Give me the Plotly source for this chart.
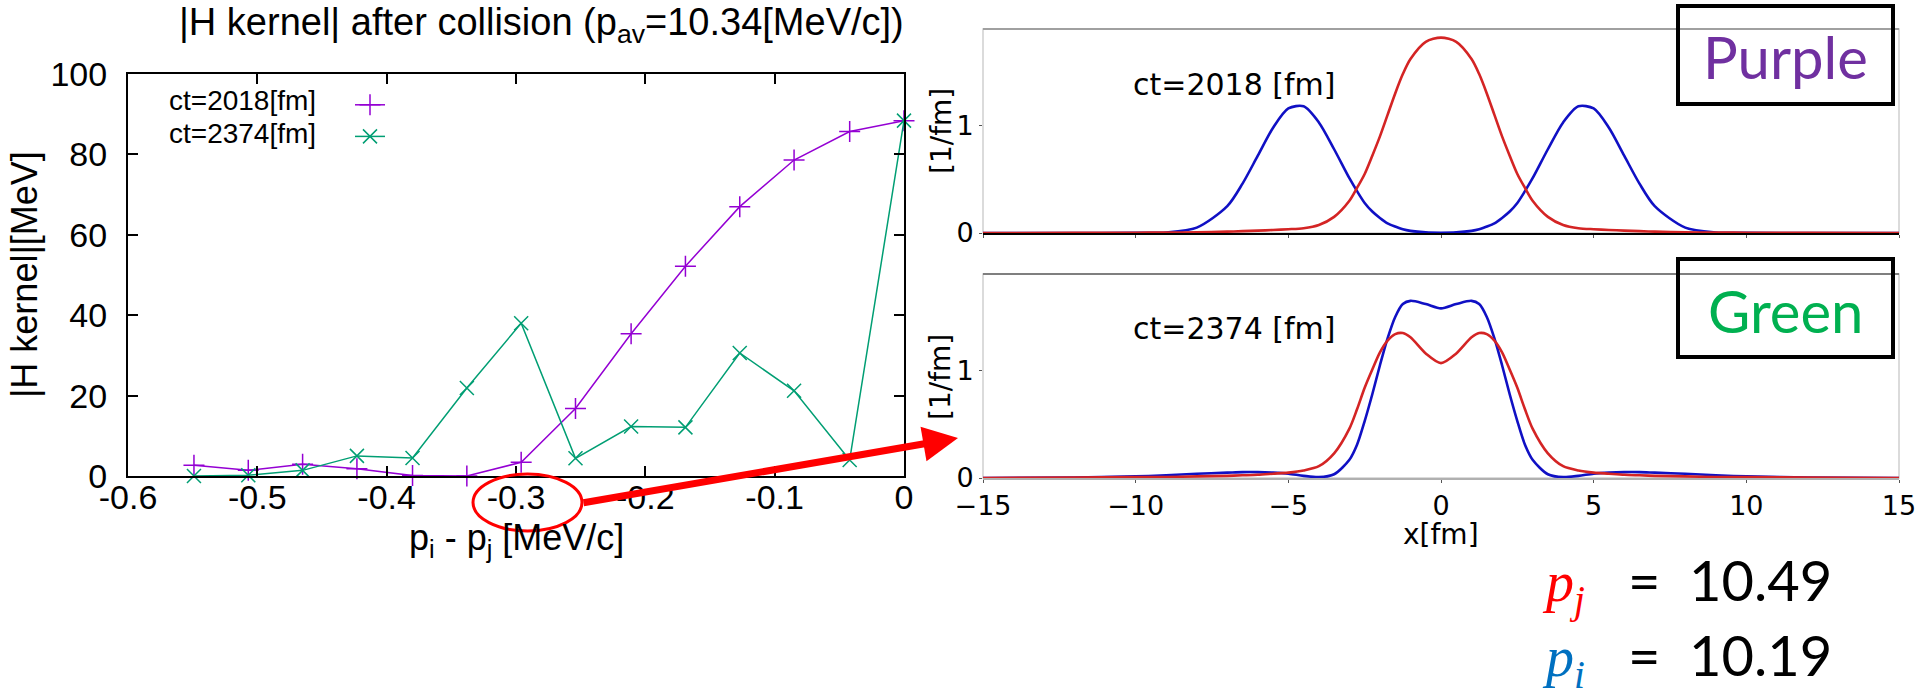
import plotly.graph_objects as go

W, H = 1917, 696

# ---------------- left chart data ----------------
dp_ij = [-0.549, -0.507, -0.465, -0.423, -0.380, -0.338, -0.296,
         -0.254, -0.211, -0.169, -0.127, -0.085, -0.042, 0.0]
h_kernel_2018 = [2.7, 1.4, 2.9, 1.8, 0.1, 0.0, 3.4, 16.8, 35.4, 52.2, 67.0, 78.6, 85.7, 88.4]
h_kernel_2374 = [0.0, 0.2, 1.4, 5.0, 4.5, 21.9, 38.0, 4.4, 12.3, 12.1, 30.6, 21.2, 4.0, 88.4]
left_xticks = [-0.6, -0.5, -0.4, -0.3, -0.2, -0.1, 0]
left_xticktext = ["-0.6", "-0.5", "-0.4", "-0.3", "-0.2", "-0.1", "0"]
left_yticks = [0, 20, 40, 60, 80, 100]
series_names = ["ct=2018[fm]", "ct=2374[fm]"]

# ---------------- right panels data ----------------
x_fm = [-15, -12, -10, -9, -8, -7, -6.5, -6, -5.5, -5, -4.5, -4, -3.5, -3, -2.75, -2.5,
        -2.25, -2, -1.75, -1.5, -1.25, -1, -0.5, 0, 0.5, 1, 1.25, 1.5, 1.75, 2, 2.25,
        2.5, 2.75, 3, 3.5, 4, 4.5, 5, 5.5, 6, 6.5, 7, 8, 9, 10, 12, 15]
rho_i_2018 = [0, 0, 0.001, 0.005, 0.05, 0.25, 0.46, 0.72, 0.98, 1.16, 1.18, 1.03, 0.78, 0.51,
              0.39, 0.28, 0.20, 0.14, 0.09, 0.06, 0.035, 0.02, 0.006, 0.003, 0.006, 0.02,
              0.035, 0.06, 0.09, 0.14, 0.20, 0.28, 0.39, 0.51, 0.78, 1.03, 1.18, 1.16, 0.98,
              0.72, 0.46, 0.25, 0.05, 0.005, 0.001, 0, 0]
rho_j_2018 = [0, 0.001, 0.003, 0.004, 0.007, 0.013, 0.017, 0.022, 0.028, 0.035, 0.045, 0.075,
              0.15, 0.30, 0.42, 0.55, 0.72, 0.90, 1.10, 1.30, 1.48, 1.62, 1.78, 1.82, 1.78,
              1.62, 1.48, 1.30, 1.10, 0.90, 0.72, 0.55, 0.42, 0.30, 0.15, 0.075, 0.045, 0.035,
              0.028, 0.022, 0.017, 0.013, 0.007, 0.004, 0.003, 0.001, 0]
rho_i_2374 = [0, 0.005, 0.015, 0.025, 0.04, 0.05, 0.055, 0.055, 0.05, 0.04, 0.02, 0.008, 0.035,
              0.17, 0.31, 0.53, 0.78, 1.05, 1.30, 1.50, 1.62, 1.65, 1.62, 1.58, 1.62, 1.65,
              1.62, 1.50, 1.30, 1.05, 0.78, 0.53, 0.31, 0.17, 0.035, 0.008, 0.02, 0.04, 0.05,
              0.055, 0.055, 0.05, 0.04, 0.025, 0.015, 0.005, 0]
rho_j_2374 = [0, 0.004, 0.008, 0.01, 0.015, 0.02, 0.025, 0.03, 0.04, 0.05, 0.07, 0.11, 0.23,
              0.46, 0.64, 0.84, 1.01, 1.17, 1.28, 1.34, 1.35, 1.31, 1.16, 1.07, 1.16, 1.31,
              1.35, 1.34, 1.28, 1.17, 1.01, 0.84, 0.64, 0.46, 0.23, 0.11, 0.07, 0.05, 0.04,
              0.03, 0.025, 0.02, 0.015, 0.01, 0.008, 0.004, 0]
right_xticks = [-15, -10, -5, 0, 5, 10, 15]
right_yticks = [0, 1]
p_j_value = "10.49"
p_i_value = "10.19"


def px(x):
    return x / W


def py(y):
    return 1 - y / H


PURPLE = "#9400d3"
GREEN = "#009e73"
BLUE = "#1010c4"
RED = "#d42424"
LFONT = "Liberation Sans"
RFONT = "DejaVu Sans"
NB = "\u00a0"

fig = go.Figure()

# left chart
fig.add_trace(go.Scatter(
    x=dp_ij, y=h_kernel_2018, mode="lines+markers", name=" ",
    line=dict(color=PURPLE, width=1.5),
    marker=dict(symbol="cross-thin-open", size=15, line=dict(color=PURPLE, width=1.5)),
    cliponaxis=False, xaxis="x", yaxis="y"))
fig.add_trace(go.Scatter(
    x=dp_ij, y=h_kernel_2374, mode="lines+markers", name="  ",
    line=dict(color=GREEN, width=1.5),
    marker=dict(symbol="x-thin-open", size=14, line=dict(color=GREEN, width=1.5)),
    cliponaxis=False, xaxis="x", yaxis="y"))

# right panels
for xs, ys, col, xa, ya in [
    (x_fm, rho_i_2018, BLUE, "x2", "y2"),
    (x_fm, rho_j_2018, RED, "x2", "y2"),
    (x_fm, rho_i_2374, BLUE, "x3", "y3"),
    (x_fm, rho_j_2374, RED, "x3", "y3"),
]:
    fig.add_trace(go.Scatter(
        x=xs, y=ys, mode="lines", showlegend=False,
        line=dict(color=col, width=2.6, shape="spline", smoothing=0.8),
        xaxis=xa, yaxis=ya))

left_axis_common = dict(
    showline=True, linecolor="black", linewidth=2, mirror="ticks",
    ticks="inside", ticklen=10, tickwidth=1.5, tickcolor="black",
    showgrid=False, zeroline=False, automargin=False,
    tickfont=dict(family=LFONT, size=34, color="black"))

right_axis_common = dict(
    showgrid=False, zeroline=False, ticks="outside", ticklen=3, tickwidth=1,
    automargin=False,
    tickcolor="#555555", tickfont=dict(family=RFONT, size=27, color="black"))

fig.update_layout(
    width=W, height=H,
    margin=dict(l=0, r=0, t=0, b=0, autoexpand=False),
    paper_bgcolor="white", plot_bgcolor="rgba(0,0,0,0)",
    xaxis=dict(domain=[px(128), px(904)], range=[-0.6, 0], anchor="y",
               tickvals=left_xticks, ticktext=left_xticktext, ticklabelstandoff=-10,
               **left_axis_common),
    yaxis=dict(domain=[py(476), py(74)], range=[0, 100], anchor="x",
               tickvals=left_yticks, ticklabelstandoff=12, **left_axis_common),
    xaxis2=dict(domain=[px(983), px(1899)], range=[-15, 15], anchor="y2",
                tickvals=right_xticks, showticklabels=False,
                showline=True, linecolor="black", linewidth=1.5, **right_axis_common),
    yaxis2=dict(domain=[py(233), py(29)], range=[0, 1.9], anchor="x2",
                tickvals=right_yticks, showline=False, **right_axis_common),
    xaxis3=dict(domain=[px(983), px(1899)], range=[-15, 15], anchor="y3",
                tickvals=right_xticks, showline=True, linecolor="#b0b0b0", linewidth=1.5,
                **right_axis_common),
    yaxis3=dict(domain=[py(478), py(274)], range=[0, 1.9], anchor="x3",
                tickvals=right_yticks, showline=False, **right_axis_common),
    showlegend=True,
    legend=dict(x=px(350), y=py(84), xanchor="left", yanchor="top",
                bgcolor="rgba(0,0,0,0)", font=dict(family=LFONT, size=22),
                itemwidth=30, tracegroupgap=0),
)

shapes = [
    # right top panel frame
    dict(type="rect", xref="x2 domain", yref="y2 domain", x0=0, x1=1, y0=0, y1=1,
         line=dict(color="#cfcfcf", width=1.5), layer="below"),
    dict(type="line", xref="x2 domain", yref="y2 domain", x0=0, x1=1, y0=1, y1=1,
         line=dict(color="#a0a0a0", width=2), layer="below"),
    # right bottom panel frame
    dict(type="rect", xref="x3 domain", yref="y3 domain", x0=0, x1=1, y0=0, y1=1,
         line=dict(color="#d0d0d0", width=1.5), layer="below"),
    dict(type="line", xref="x3 domain", yref="y3 domain", x0=0, x1=1, y0=1, y1=1,
         line=dict(color="#606060", width=1.5), layer="below"),
    # Purple / Green boxes
    dict(type="rect", xref="paper", yref="paper", x0=px(1678), x1=px(1893),
         y0=py(104), y1=py(6), line=dict(color="black", width=4)),
    dict(type="rect", xref="paper", yref="paper", x0=px(1678), x1=px(1893),
         y0=py(357), y1=py(259), line=dict(color="black", width=4)),
    # red ellipse around -0.3
    dict(type="circle", xref="paper", yref="paper", x0=px(473), x1=px(582),
         y0=py(531), y1=py(474), line=dict(color="#ff0000", width=3)),
]

ann = []


def text(x, y, t, size, family, color="black", xanchor="center", yanchor="middle", angle=0):
    ann.append(dict(x=px(x), y=py(y), xref="paper", yref="paper", text=t, showarrow=False,
                    xanchor=xanchor, yanchor=yanchor, textangle=angle,
                    font=dict(family=family, size=size, color=color)))


text(541, 25, "|H kernel| after collision (p<sub>av</sub>=10.34[MeV/c])", 38, LFONT)
text(24, 275, "|H kernel|[MeV]", 36, LFONT, angle=-90)
text(516, 540, "p<sub>i</sub> - p<sub>j</sub> [MeV/c]", 36, LFONT)
text(318, 118, series_names[0], 28, LFONT, xanchor="right", yanchor="bottom")
text(318, 116, series_names[1], 28, LFONT, xanchor="right", yanchor="top")

text(1234, 84, "ct=2018 [fm]", 30, RFONT)
text(1234, 329, "ct=2374 [fm]", 30, RFONT)
text(942, 131, "[1/fm]", 28, RFONT, angle=-90)
text(940, 377, "[1/fm]", 28, RFONT, angle=-90)
text(1441, 534, "x[fm]", 28, RFONT)

text(1785, 57, "Purple", 58, "Lato", color="#7030a0")
text(1785, 310, "Green", 58, "Lato", color="#00b050")

EQ = NB * 3 + "=" + NB * 2
text(1540, 584, '<span style="color:#ff0000;font-family:Liberation Serif"><i>p</i><sub><i>j</i></sub></span>' + EQ + p_j_value,
     56, "Lato", xanchor="left")
text(1540, 658, '<span style="color:#0070c0;font-family:Liberation Serif"><i>p</i><sub><i>i</i></sub></span>' + EQ + p_i_value,
     56, "Lato", xanchor="left")

# red arrow
ann.append(dict(x=px(958), y=py(438), xref="paper", yref="paper", text="",
                showarrow=True, ax=582 - 958, ay=503 - 438, axref="pixel", ayref="pixel",
                arrowhead=2, arrowsize=1, arrowwidth=7, arrowcolor="#ff0000", standoff=0))

fig.update_layout(shapes=shapes, annotations=ann)
fig.write_html("out.html")
